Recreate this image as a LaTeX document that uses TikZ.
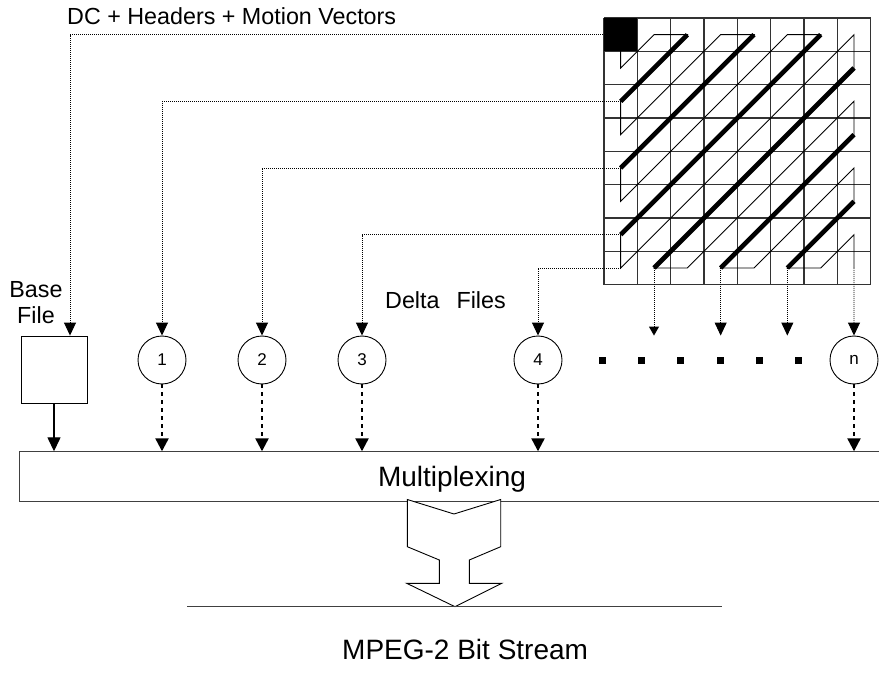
\documentclass[tikz,border=0pt]{standalone}
\usepackage{fontspec}
\setmainfont{Liberation Sans}
\usetikzlibrary{arrows.meta,calc}
\begin{document}
\begin{tikzpicture}[x=1pt,y=-1pt,
  thinline/.style={line width=0.9pt},
  gridline/.style={line width=1.1pt, black!80},
  thickdiag/.style={line width=4.6pt, line cap=butt},
  dotconn/.style={line width=0.9pt, dash pattern=on 1pt off 1pt, -{Triangle[length=13pt,width=12pt]}},
  smalltip/.style={-{Triangle[length=9pt,width=10pt]}},
  thickdot/.style={line width=2.3pt, dash pattern=on 3.5pt off 4.5pt, -{Triangle[length=13pt,width=13pt]}},
  solidarrow/.style={line width=1.3pt, -{Triangle[length=14pt,width=13pt]}},
  circ/.style={circle, draw, line width=0.9pt, minimum size=48pt, inner sep=0pt, font=\fontsize{17}{20}\selectfont},
  basebox/.style={rectangle, draw, line width=0.9pt, minimum width=66pt, minimum height=67pt, inner sep=0pt},
  boxline/.style={line width=1.2pt, black!75},
  lab/.style={inner sep=0pt, font=\fontsize{23.3}{26}\selectfont},
  biglab/.style={inner sep=0pt, font=\fontsize{28}{33}\selectfont}
]
\useasboundingbox (0,0) rectangle (879,690);

% grid cell centres
\foreach \i in {0,...,7}{\foreach \j in {0,...,7}{
  \coordinate (c\i\j) at ({604+(\i+0.5)*33.333},{18+(\j+0.5)*33.333});
}}
% grid lines
\foreach \k in {0,...,8}{
  \draw[gridline] ({604+\k*33.333},18) -- ({604+\k*33.333},284.67);
  \draw[gridline] (604,{18+\k*33.333}) -- (870.67,{18+\k*33.333});
}
% zigzag scan
\draw[thinline] (c00) -- (c01) -- (c10) -- (c20) -- (c02) -- (c03) -- (c30) -- (c40)
  -- (c04) -- (c05) -- (c50) -- (c60) -- (c06) -- (c07) -- (c70) -- (c71) -- (c17)
  -- (c27) -- (c72) -- (c73) -- (c37) -- (c47) -- (c74) -- (c75) -- (c57) -- (c67)
  -- (c76) -- (c77);
\foreach \a/\b in {20/02,40/04,60/06,71/17,73/37,75/57}
  \draw[thickdiag] (c\a) -- (c\b);

% nodes
\node[basebox] (base) at (54,369.5) {};
\node[circ] (n1) at (162,360) {1};
\node[circ] (n2) at (262,360) {2};
\node[circ] (n3) at (362,360) {3};
\node[circ] (n4) at (538,360) {4};
\node[circ] (nn) at (854,360) {n};

% dotted connectors from the grid
\draw[dotconn] (c00) -| ([xshift=16pt]base.north);
\fill (604,18) rectangle (637.33,51.33);
\draw[dotconn] (c02) -| (n1.north);
\draw[dotconn] (c04) -| (n2.north);
\draw[dotconn] (c06) -| (n3.north);
\draw[dotconn] (c07) -| (n4.north);
\coordinate (e1) at (c17 |- nn.north);
\coordinate (e3) at (c37 |- nn.north);
\coordinate (e5) at (c57 |- nn.north);
\draw[dotconn, smalltip] (c17) -- (e1);
\draw[dotconn] (c37) -- (e3);
\draw[dotconn] (c57) -- (e5);
\draw[dotconn] (c77) -- (nn.north);

% dots
\foreach \x in {602.3,641.7,680.7,720,759,798.3}
  \fill (\x-3.5,356.5) rectangle (\x+3.5,363.5);

% multiplexing box
\node[minimum width=859pt, minimum height=50pt, inner sep=0pt] (mux) at (449.5,476.5) {};
\draw[boxline] (mux.north east) -- (mux.north west) -- (mux.south west) -- (mux.south east);
\node[biglab, anchor=base] (muxlabel) at (452,486.5) {Multiplexing};

\draw[solidarrow] (base.south) -- (base.south |- mux.north);
\foreach \n in {n1,n2,n3,n4,nn}
  \draw[thickdot] (\n.south) -- (\n.south |- mux.north);

% big output arrow
\draw[thinline, fill=white] (407.3,499.5) -- (454,514) -- (500.7,499.5) -- (500.7,546.7)
  -- (469.3,560) -- (469.3,583.3) -- (501.7,583.3) -- (455,606.7) -- (406.7,583.3)
  -- (439.3,583.3) -- (439.3,560) -- (407.3,546.7) -- cycle;
\coordinate (sl) at (187,606.7);
\coordinate (sr) at (722,606.7);
\draw[boxline] (sl) -- (sr);

% labels
\node[lab, anchor=base west] (dc) at (67,25) {DC + Headers + Motion Vectors};
\node[lab, anchor=base west] (delta) at (385,308) {Delta\hspace{17pt}Files};
\node[lab, align=center] (basefile) at (36,303) {Base\\File};
\node[biglab, anchor=base west] (mpeg) at (342,659) {MPEG-2 Bit Stream};
\end{tikzpicture}
\end{document}
